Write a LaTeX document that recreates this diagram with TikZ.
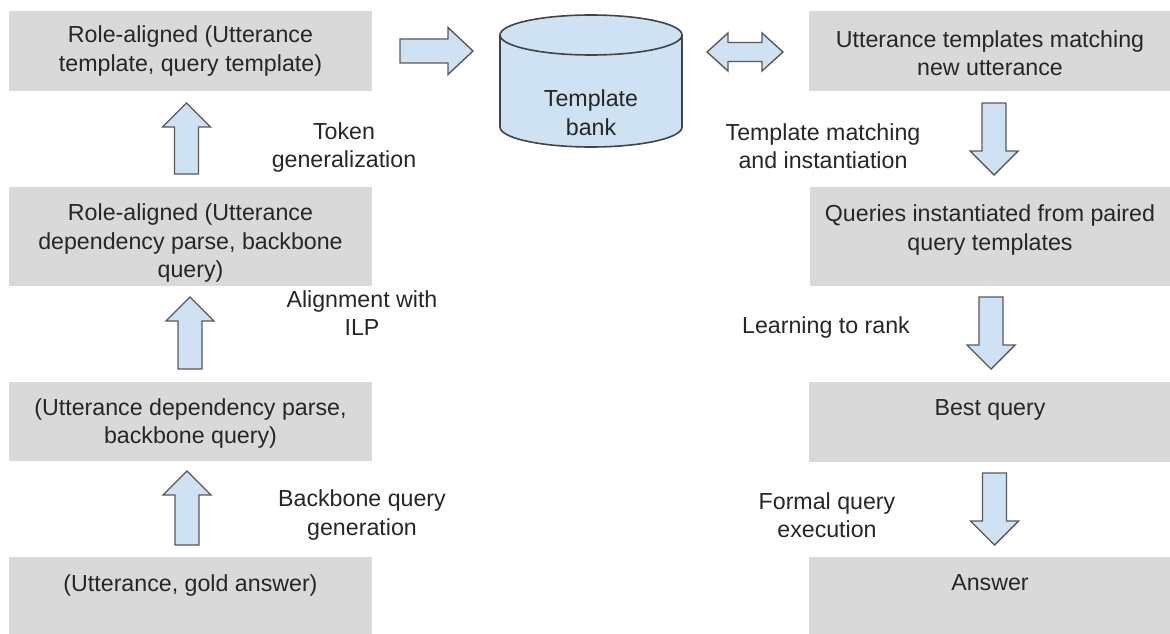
\documentclass[tikz,border=0pt]{standalone}
\usepackage{fontspec}
\setmainfont{Liberation Sans}
\usetikzlibrary{calc}

\definecolor{boxgray}{HTML}{D9D9D9}
\definecolor{arrowfill}{HTML}{CFE2F3}
\definecolor{arrowline}{HTML}{595959}
\definecolor{tankline}{HTML}{434343}
\definecolor{inkgray}{HTML}{262626}

\tikzset{
  box/.style={fill=boxgray, draw=none, inner sep=0pt, anchor=north west},
  txt/.style={text=inkgray, align=center, inner sep=0pt,
              font=\fontsize{23.2}{28.5}\selectfont},
  barrow/.style={fill=arrowfill, draw=arrowline, line width=1.4pt, line join=miter},
  tank/.style={fill=arrowfill, draw=tankline, line width=1.6pt},
}

% vertical block arrow from tail #1 to tip #2
\newcommand\vblock[2]{%
  \draw[barrow] let \p1=(#1), \p2=(#2), \n1={ifthenelse(\y2>\y1,1,-1)} in
    ({\x1-12pt},\y1) -- ({\x1-12pt},{\y2-\n1*24pt}) -- ({\x1-24pt},{\y2-\n1*24pt})
    -- (\x1,\y2) -- ({\x1+24pt},{\y2-\n1*24pt}) -- ({\x1+12pt},{\y2-\n1*24pt})
    -- ({\x1+12pt},\y1) -- cycle;}
% horizontal block arrow pointing right, tail #1, tip #2
\newcommand\hblock[2]{%
  \draw[barrow] let \p1=(#1), \p2=(#2) in
    (\x1,{\y1+12pt}) -- ({\x2-25pt},{\y1+12pt}) -- ({\x2-25pt},{\y1+23.5pt}) -- (\x2,\y1)
    -- ({\x2-25pt},{\y1-23.5pt}) -- ({\x2-25pt},{\y1-12pt}) -- (\x1,{\y1-12pt}) -- cycle;}
% two-headed horizontal block arrow between #1 and #2
\newcommand\dblock[2]{%
  \draw[barrow] let \p1=(#1), \p2=(#2) in
    (\x1,\y1) -- ({\x1+21pt},{\y1+19pt}) -- ({\x1+21pt},{\y1+9.5pt}) -- ({\x2-21pt},{\y1+9.5pt})
    -- ({\x2-21pt},{\y1+19pt}) -- (\x2,\y1) -- ({\x2-21pt},{\y1-19pt}) -- ({\x2-21pt},{\y1-9.5pt})
    -- ({\x1+21pt},{\y1-9.5pt}) -- ({\x1+21pt},{\y1-19pt}) -- cycle;}

\begin{document}
\begin{tikzpicture}[x=1pt,y=1pt]
\useasboundingbox (0,0) rectangle (1170,-634);

% ---- left column boxes ----
\node[box, minimum width=363pt, minimum height=80pt] (l1) at (9,-11) {};
\node[box, minimum width=363pt, minimum height=99pt] (l2) at (9,-187) {};
\node[box, minimum width=363pt, minimum height=79pt] (l3) at (9,-382) {};
\node[box, minimum width=363pt, minimum height=77pt] (l4) at (9,-557) {};

% ---- right column boxes ----
\node[box, minimum width=361pt, minimum height=80pt] (r1) at (809,-11) {};
\node[box, minimum width=360pt, minimum height=99pt] (r2) at (810,-187) {};
\node[box, minimum width=361pt, minimum height=80pt] (r3) at (809,-382) {};
\node[box, minimum width=361pt, minimum height=77pt] (r4) at (809,-557) {};

% ---- box texts ----
\node[txt] (l1t) at (190.5,-51) {Role-aligned (Utterance\\template, query template)};
\node[txt] (l2t) at (190.5,-243) {Role-aligned (Utterance\\dependency parse, backbone\\query)};
\node[txt] (l3t) at (190.5,-423.5) {(Utterance dependency parse,\\backbone query)};
\node[txt] (l4t) at (190.5,-585) {(Utterance, gold answer)};
\node[txt] (r1t) at (990,-53) {Utterance templates matching\\new utterance};
\node[txt] (r2t) at (990,-230) {Queries instantiated from paired\\query templates};
\node[txt] (r3t) at (990,-410) {Best query};
\node[txt] (r4t) at (990,-583) {Answer};

% ---- template bank cylinder ----
\path[tank] (500,-35) -- (500,-127)
  arc[start angle=180, end angle=360, x radius=91pt, y radius=20pt]
  -- (682,-35)
  arc[start angle=0, end angle=180, x radius=91pt, y radius=20pt] -- cycle;
\draw[tank, fill=none] (500,-35)
  arc[start angle=180, end angle=360, x radius=91pt, y radius=20pt];
\node[txt] (bank) at (591,-112.5) {Template\\bank};

% ---- step labels ----
\node[txt] (lab1) at (344,-147.5) {Token\\generalization};
\node[txt] (lab2) at (362,-313) {Alignment with\\ILP};
\node[txt] (lab3) at (362,-515) {Backbone query\\generation};
\node[txt] (lab4) at (823,-146) {Template matching\\and instantiation};
\node[txt] (lab5) at (826,-327) {Learning to rank};
\node[txt] (lab6) at (827,-515) {Formal query\\execution};

% ---- arrow end points ----
\coordinate (u1s) at (186.5,-174);  \coordinate (u1e) at (186.5,-103);
\coordinate (u2s) at (190,-369);    \coordinate (u2e) at (190,-297);
\coordinate (u3s) at (187,-545);    \coordinate (u3e) at (187,-471);
\coordinate (d1s) at (994,-103);    \coordinate (d1e) at (994,-175);
\coordinate (d2s) at (991,-297);    \coordinate (d2e) at (991,-369);
\coordinate (d3s) at (994.5,-473);  \coordinate (d3e) at (994.5,-545);
\coordinate (hs) at (400,-51);      \coordinate (he) at (473,-51);
\coordinate (bs) at (707,-52);      \coordinate (be) at (783,-52);

% ---- block arrows ----
\vblock{u3s}{u3e}
\vblock{u2s}{u2e}
\vblock{u1s}{u1e}
\hblock{hs}{he}
\dblock{bs}{be}
\vblock{d1s}{d1e}
\vblock{d2s}{d2e}
\vblock{d3s}{d3e}
\end{tikzpicture}
\end{document}
